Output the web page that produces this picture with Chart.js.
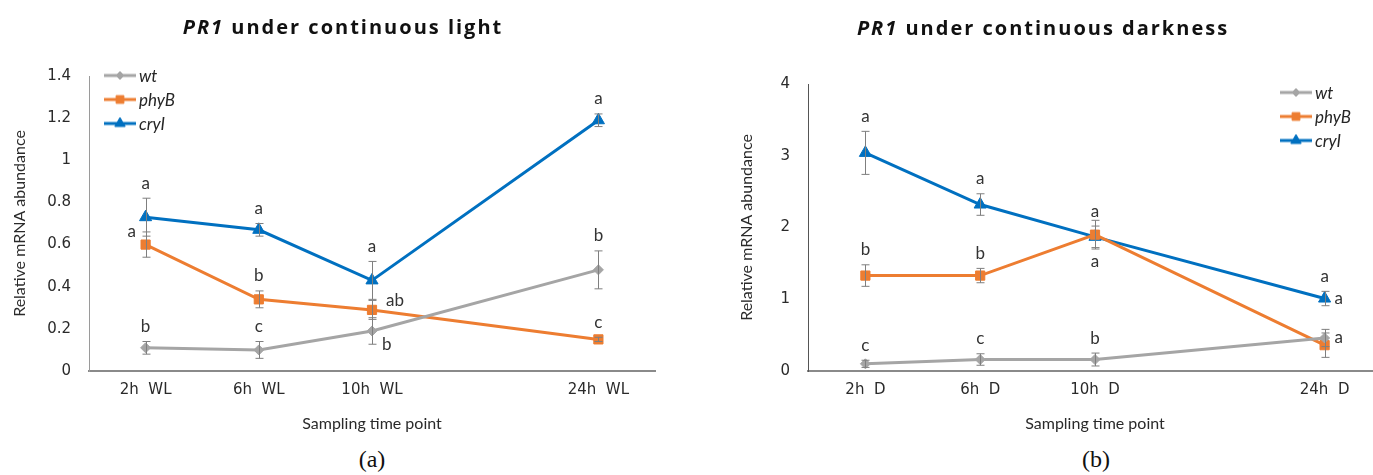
<!DOCTYPE html>
<html><head><meta charset="utf-8">
<script src="https://cdn.jsdelivr.net/npm/chart.js@4/dist/chart.umd.min.js"></script>
<style>
html,body{margin:0;padding:0;background:#fff;overflow:hidden;width:1373px;height:475px}
#wrap{position:relative;width:1373px;height:475px;overflow:hidden;background:#fff}
canvas.cv{position:absolute;top:0}
.title{position:absolute;font-family:'Open Sans';font-weight:700;font-size:20px;letter-spacing:2px;color:#111;white-space:nowrap;transform:translate(-50%,-50%)}
.panel{position:absolute;font-family:'Liberation Serif';font-size:24px;color:#111;transform:translate(-50%,-50%)}
.legend{position:absolute;font-family:Lato;font-style:italic;font-size:17px;color:#262626}
.row{position:absolute;display:flex;align-items:center;white-space:nowrap;transform:translateY(-50%)}
.row canvas{margin-right:3px}
</style></head>
<body><div id="wrap">
<canvas id="cA" class="cv" style="left:0px"></canvas>
<canvas id="cB" class="cv" style="left:690px"></canvas>
<div class="title" style="left:343px;top:26px"><i>PR1</i> under continuous light</div>
<div class="title" style="left:1043px;top:27px"><i>PR1</i> under continuous darkness</div>
<div class="panel" style="left:372px;top:459px">(a)</div>
<div class="panel" style="left:1096px;top:459px">(b)</div>
<div id="legA" class="legend"></div>
<div id="legB" class="legend"></div>
</div>
<script>
// ---------- data ----------
const seriesNames = ['wt', 'phyB', 'cryI'];

const xLabelsA = ['2h  WL', '6h  WL', '10h  WL', '', '24h  WL'];
const yTicksA = [0, 0.2, 0.4, 0.6, 0.8, 1, 1.2, 1.4];
const wtA = [0.11, 0.10, 0.19, null, 0.48];
const wtErrA = [0.03, 0.04, 0.063, null, 0.09];
const phyBA = [0.60, 0.34, 0.29, null, 0.15];
const phyBErrA = [0.06, 0.04, 0.045, null, 0.01];
const cryIA = [0.73, 0.67, 0.43, null, 1.19];
const cryIErrA = [0.09, 0.03, 0.09, null, 0.03];
const wtLettersA = ['b', 'c', 'b', null, 'b'];
const phyBLettersA = ['a', 'b', 'ab', null, 'c'];
const cryILettersA = ['a', 'a', 'a', null, 'a'];

const xLabelsB = ['2h  D', '6h  D', '10h  D', '', '24h  D'];
const yTicksB = [0, 1, 2, 3, 4];
const wtB = [0.10, 0.16, 0.16, null, 0.46];
const wtErrB = [0.05, 0.08, 0.09, null, 0.12];
const phyBB = [1.33, 1.33, 1.90, null, 0.36];
const phyBErrB = [0.15, 0.10, 0.20, null, 0.17];
const cryIB = [3.04, 2.32, 1.87, null, 1.01];
const cryIErrB = [0.30, 0.15, 0.15, null, 0.10];
const wtLettersB = ['c', 'c', 'b', null, 'a'];
const phyBLettersB = ['b', 'b', 'a', null, null];
const cryILettersB = ['a', 'a', 'a', null, 'a'];
const cryIExtraLettersB = [null, null, null, null, 'a'];

// ---------- styles ----------
const colors = { wt: '#A5A5A5', phyB: '#ED7D31', cryI: '#0070C0' };
const pStyles = { wt: 'rectRot', phyB: 'rect', cryI: 'triangle' };
const pRadius = { wt: 5, phyB: 6.5, cryI: 7 };
const placeA = {
  wt: ['top', 'top', 'rightLow', null, 'top'],
  phyB: ['left', 'top', 'right', null, 'top'],
  cryI: ['top', 'top', 'top', null, 'top']
};
const placeB = {
  wt: ['top', 'top', 'top', null, 'rightPt'],
  phyB: ['top', 'top', 'below', null, null],
  cryI: ['top', 'top', 'top', null, 'top'],
  cryIExtra: [null, null, null, null, 'rightPt']
};

const errorBars = {
  id: 'errorBars',
  afterDatasetsDraw(chart) {
    const ctx = chart.ctx, ys = chart.scales.y;
    ctx.save();
    ctx.strokeStyle = '#7f7f7f';
    ctx.lineWidth = 1;
    chart.data.datasets.forEach((ds, di) => {
      const meta = chart.getDatasetMeta(di);
      (ds.errors || []).forEach((e, i) => {
        if (e == null || ds.data[i] == null) return;
        const x = Math.round(meta.data[i].x) + 0.5;
        const t = ys.getPixelForValue(ds.data[i] + e);
        const b = ys.getPixelForValue(ds.data[i] - e);
        ctx.beginPath();
        ctx.moveTo(x, t); ctx.lineTo(x, b);
        ctx.moveTo(x - 4, t); ctx.lineTo(x + 4, t);
        ctx.moveTo(x - 4, b); ctx.lineTo(x + 4, b);
        ctx.stroke();
      });
    });
    ctx.restore();
  }
};

const letterPlugin = {
  id: 'letters',
  afterDatasetsDraw(chart) {
    const ctx = chart.ctx, ys = chart.scales.y;
    ctx.save();
    ctx.font = '17px Lato';
    ctx.fillStyle = '#333';
    ctx.textBaseline = 'middle';
    chart.data.datasets.forEach((ds, di) => {
      const meta = chart.getDatasetMeta(di);
      (ds.letterSets || []).forEach(set => {
        set.text.forEach((txt, i) => {
          if (!txt || ds.data[i] == null) return;
          const pt = meta.data[i];
          const e = ds.errors[i] || 0;
          const t = ys.getPixelForValue(ds.data[i] + e);
          const b = ys.getPixelForValue(ds.data[i] - e);
          const p = set.place[i];
          let x = pt.x, y = t - 15, align = 'center';
          if (p === 'left') { x = pt.x - 14; y = t; }
          else if (p === 'right') { x = pt.x + 14; y = t; align = 'left'; }
          else if (p === 'rightLow') { x = pt.x + 10; y = b; align = 'left'; }
          else if (p === 'rightPt') { x = pt.x + 10; y = pt.y; align = 'left'; }
          else if (p === 'below') { x = pt.x; y = b + 12; }
          ctx.textAlign = align;
          ctx.fillText(txt, x, y);
        });
      });
    });
    ctx.restore();
  }
};

function ds(name, data, errs, letterSets) {
  return {
    label: name, data, errors: errs, letterSets,
    borderColor: colors[name], backgroundColor: colors[name],
    pointBackgroundColor: colors[name], pointBorderColor: colors[name],
    borderWidth: 3, pointStyle: pStyles[name], pointRadius: pRadius[name],
    pointBorderWidth: 1, spanGaps: true, tension: 0
  };
}

function makeChart(id, w, h, labels, yTicks, datasets, geom) {
  const cv = document.getElementById(id);
  cv.width = w; cv.height = h;
  cv.style.width = w + 'px'; cv.style.height = h + 'px';
  return new Chart(cv, {
    type: 'line',
    data: { labels, datasets },
    plugins: [errorBars, letterPlugin],
    options: {
      responsive: false, animation: false, events: [],
      layout: { padding: { top: geom.top, right: geom.right, bottom: 0, left: 0 } },
      plugins: { legend: { display: false }, tooltip: { enabled: false } },
      scales: {
        x: {
          type: 'category', offset: true,
          grid: { display: false, drawTicks: false },
          border: { display: true, color: '#8a8a8a', width: 2 },
          ticks: { font: { family: 'DejaVu Sans', size: 15 }, color: '#2a2a2a', padding: 10, maxRotation: 0, autoSkip: false },
          title: { display: true, text: 'Sampling time point', font: { family: 'Lato', size: 16 }, color: '#2a2a2a', padding: { top: 0, bottom: 7 } },
          afterFit: s => { s.height = geom.xh; }
        },
        y: {
          min: yTicks[0], max: yTicks[yTicks.length - 1],
          afterBuildTicks: s => { s.ticks = yTicks.map(v => ({ value: v })); },
          grid: { display: false, drawTicks: false },
          border: { display: true, color: geom.ybc, width: 1 },
          ticks: { font: { family: 'DejaVu Sans', size: 15 }, color: '#2a2a2a', padding: 18, callback: v => String(v) },
          title: { display: true, text: 'Relative mRNA abundance', font: { family: 'Lato', size: 16 }, color: '#2a2a2a', padding: { top: geom.ytp, bottom: 0 } },
          afterFit: s => { s.width = geom.yw; }
        }
      }
    }
  });
}

makeChart('cA', 690, 440, xLabelsA, yTicksA, [
  ds('wt', wtA, wtErrA, [{ text: wtLettersA, place: placeA.wt }]),
  ds('phyB', phyBA, phyBErrA, [{ text: phyBLettersA, place: placeA.phyB }]),
  ds('cryI', cryIA, cryIErrA, [{ text: cryILettersA, place: placeA.cryI }])
], { top: 76, right: 35, xh: 69, yw: 89, ytp: 10, ybc: '#9a9a9a' });

makeChart('cB', 700, 440, xLabelsB, yTicksB, [
  ds('wt', wtB, wtErrB, [{ text: wtLettersB, place: placeB.wt }]),
  ds('phyB', phyBB, phyBErrB, [{ text: phyBLettersB, place: placeB.phyB }]),
  ds('cryI', cryIB, cryIErrB, [{ text: cryILettersB, place: placeB.cryI }, { text: cryIExtraLettersB, place: placeB.cryIExtra }])
], { top: 84, right: 5, xh: 69, yw: 118, ytp: 47, ybc: '#555' });

// ---------- legends ----------
function buildLegend(id, left, tops) {
  const el = document.getElementById(id);
  seriesNames.forEach((n, i) => {
    const row = document.createElement('div');
    row.className = 'row';
    row.style.left = left + 'px';
    row.style.top = tops[i] + 'px';
    const c = document.createElement('canvas');
    c.width = 32; c.height = 16;
    const ctx = c.getContext('2d');
    ctx.strokeStyle = colors[n]; ctx.fillStyle = colors[n]; ctx.lineWidth = 3;
    ctx.beginPath(); ctx.moveTo(0, 8); ctx.lineTo(32, 8); ctx.stroke();
    ctx.lineWidth = 1;
    Chart.helpers.drawPoint(ctx, { pointStyle: pStyles[n], radius: pRadius[n] - 1, rotation: 0, borderWidth: 1 }, 16, 8);
    const s = document.createElement('span');
    s.textContent = n;
    row.appendChild(c); row.appendChild(s);
    el.appendChild(row);
  });
}
buildLegend('legA', 104, [75, 99, 123]);
buildLegend('legB', 1280, [92, 116, 140]);
</script>
</body></html>
